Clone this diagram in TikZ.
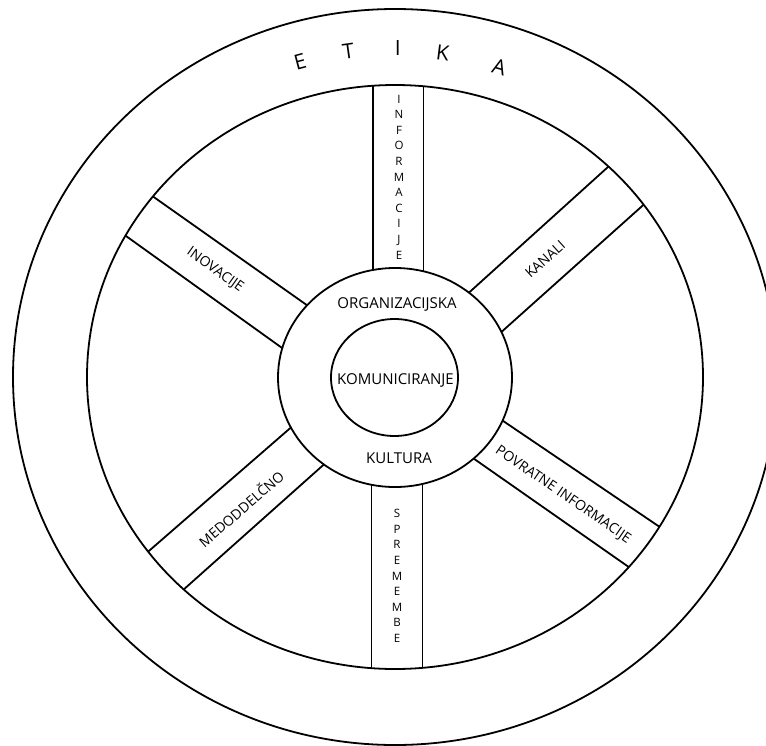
\documentclass[tikz,border=0pt]{standalone}
\usepackage{fontspec}
\setmainfont{Open Sans}
\usetikzlibrary{calc}
\begin{document}
\begin{tikzpicture}[x=1pt,y=-1pt,line width=1.8pt,
  hublabel/.style={font=\fontsize{15}{18}\selectfont,inner sep=0pt},
  spokelabel/.style={font=\fontsize{14}{17}\selectfont,inner sep=0pt},
  vertlabel/.style={font=\fontsize{11.5}{15.6}\selectfont,align=center,inner sep=0pt},
  ethicletter/.style={font=\fontsize{21}{25}\selectfont,inner sep=0pt},
  spokeline/.style={line width=1.8pt}]
\useasboundingbox (0,0) rectangle (766,745);
\clip (0,0) rectangle (766,745);
\coordinate (c) at (395,377);
\coordinate (h) at (395,377.5);
% outer tyre and rim
\draw (c) ellipse [x radius=382pt, y radius=368pt];
\draw (c) ellipse [x radius=308pt, y radius=292pt];
% spokes
\coordinate (kau1) at (470,291.7);   \coordinate (kau2) at (608.3,166.7);
\coordinate (kal1) at (501.7,331.7); \coordinate (kal2) at (643.3,205);
\coordinate (inu1) at (306.7,305);   \coordinate (inu2) at (153.3,196.7);
\coordinate (inl1) at (282.4,348.2); \coordinate (inl2) at (126,236);
\coordinate (pou1) at (501.7,420);   \coordinate (pou2) at (658.3,526);
\coordinate (pol1) at (473.3,458.3); \coordinate (pol2) at (628.3,566.7);
\coordinate (meu1) at (290,428.3);   \coordinate (meu2) at (150,550);
\coordinate (mel1) at (323.3,465);   \coordinate (mel2) at (185,588.3);
\coordinate (tl1) at (373,300);   \coordinate (tl2) at (373,50);
\coordinate (tr1) at (423.5,300); \coordinate (tr2) at (423.5,50);
\coordinate (bl1) at (371.5,450); \coordinate (bl2) at (371.5,720);
\coordinate (br1) at (422.5,450); \coordinate (br2) at (422.5,720);
\begin{scope}
  \clip (c) ellipse [x radius=308pt, y radius=292pt];
  \foreach \s in {kau,kal,inu,inl,pou,pol,meu,mel}{
    \draw[spokeline] ($(\s1)!-0.45!(\s2)$) -- ($(\s1)!1.5!(\s2)$);
  }
  \foreach \s in {tl,tr,bl,br}{
    \draw[spokeline] (\s1) -- (\s2);
  }
\end{scope}
% hub
\draw[fill=white] (h) ellipse [x radius=117pt, y radius=109.5pt];
\draw (394.5,377.5) ellipse [x radius=63.5pt, y radius=58.5pt];
% hub labels
\node[hublabel] (org) at (397,304) {ORGANIZACIJSKA};
\node[hublabel] (kom) at (395.5,380) {KOMUNICIRANJE};
\node[hublabel] (kul) at (399,458) {KULTURA};
% spoke labels
\node[spokelabel,rotate=-35.5] (ino) at (215,270) {INOVACIJE};
\node[spokelabel,rotate=42] (kan) at (545,259) {KANALI};
\node[spokelabel,rotate=-34.5] (pov) at (563,495) {POVRATNE INFORMACIJE};
\node[spokelabel,rotate=41] (med) at (240.7,508.3) {MEDODDELČNO};
\node[vertlabel] (inf) at (399,177) {I\\N\\F\\O\\R\\M\\A\\C\\I\\J\\E};
\node[vertlabel] (spr) at (397,576) {S\\P\\R\\E\\M\\E\\M\\B\\E};
% ETIKA
\node[ethicletter,rotate=15] (e1) at (300,61.7) {E};
\node[ethicletter,rotate=8] (e2) at (348.3,51.7) {T};
\node[ethicletter] (e3) at (397.7,48.3) {I};
\node[ethicletter,rotate=-7] (e4) at (442.7,53.3) {K};
\node[ethicletter,rotate=-16] (e5) at (499.3,66.7) {A};
\end{tikzpicture}
\end{document}
